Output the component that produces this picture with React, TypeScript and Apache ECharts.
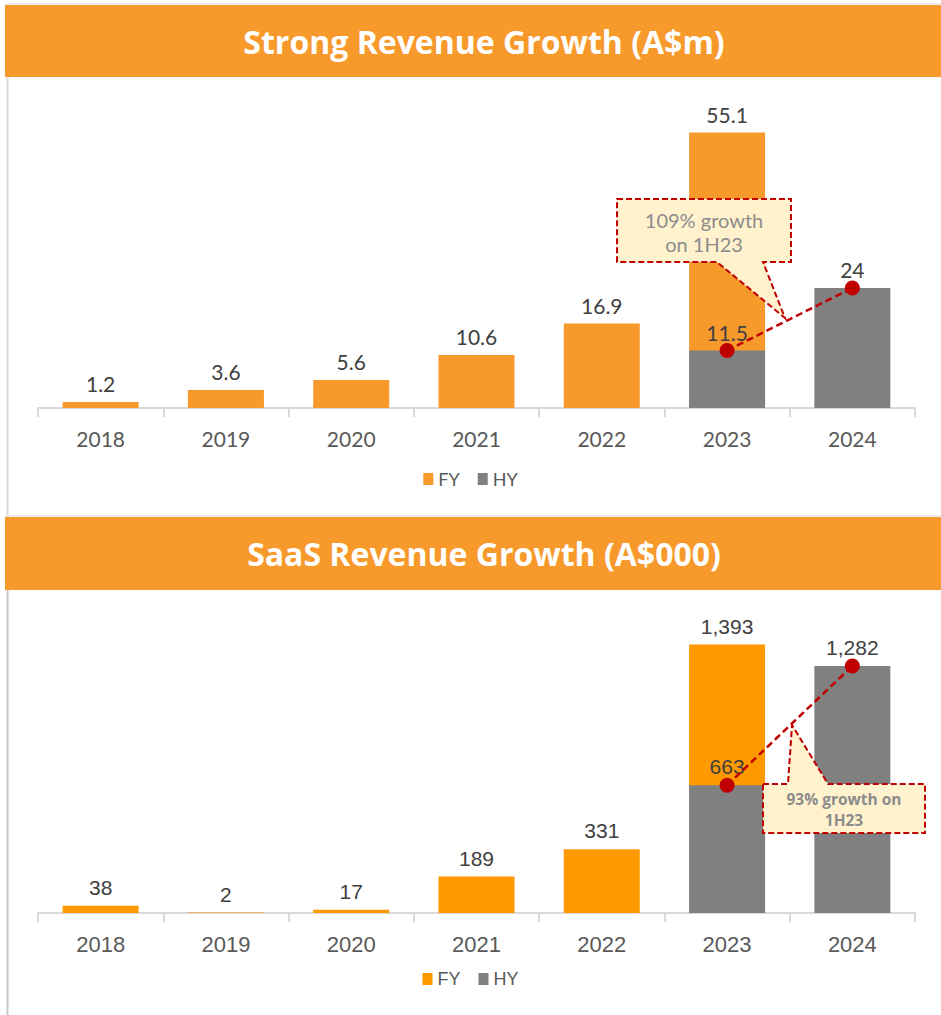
import React, { useEffect, useRef } from "react";
import * as echarts from "echarts";

const years = ["2018", "2019", "2020", "2021", "2022", "2023", "2024"];
const revenueFY = [1.2, 3.6, 5.6, 10.6, 16.9, 55.1, null];
const revenueHY = [null, null, null, null, null, 11.5, 24];
const saasFY = [38, 2, 17, 189, 331, 1393, null];
const saasHY = [null, null, null, null, null, 663, 1282];
const titles = ["Strong Revenue Growth (A$m)", "SaaS Revenue Growth (A$000)"];
const callouts = ["109% growth\non 1H23", "93% growth on\n1H23"];
const legendNames = ["FY", "HY"];

const ORANGE_TOP = "#F7992B";
const ORANGE_BOT = "#FF9900";
const GREY = "#808080";
const RED = "#C00000";
const CALLOUT_FILL = "#FFF2CC";

export default function App() {
  const ref = useRef<HTMLDivElement>(null);
  useEffect(() => {
    if (!ref.current) return;
    const chart = echarts.init(ref.current, null, { renderer: "svg" });
    const topFont = "Lato, 'Liberation Sans', sans-serif";
    const botFont = "'Liberation Sans', Arial, sans-serif";
    const fmtThousands = (p: any) =>
      p.value == null ? "" : Number(p.value).toLocaleString("en-US");

    const xAxisBase = (gridIndex: number, font: string, size: number, margin: number) => ({
      type: "category",
      gridIndex,
      data: years,
      boundaryGap: true,
      axisLine: { lineStyle: { color: "#D9D9D9", width: 2 } },
      axisTick: { show: true, length: 9, lineStyle: { color: "#D9D9D9", width: 2 } },
      axisLabel: { color: "#595959", fontSize: size, fontFamily: font, margin },
    });

    const barLabel = (font: string, size: number, formatter?: any) => ({
      show: true,
      position: "top",
      distance: 8,
      color: "#404040",
      fontSize: size,
      fontFamily: font,
      ...(formatter ? { formatter } : {}),
    });

    const legendBase = (top: number, font: string, orange: string) => ({
      top,
      left: "center",
      itemWidth: 10,
      itemHeight: 12,
      itemGap: 18,
      icon: "rect",
      textStyle: { color: "#595959", fontSize: 18, fontFamily: font },
      data: [
        { name: legendNames[0], itemStyle: { color: orange } },
        { name: legendNames[1], itemStyle: { color: GREY } },
      ],
    });

    const option: any = {
      animation: false,
      backgroundColor: "#FFFFFF",
      grid: [
        { left: 38, width: 877, top: 108, height: 300 },
        { left: 38, width: 877, top: 624, height: 289 },
      ],
      xAxis: [xAxisBase(0, topFont, 21, 20), xAxisBase(1, botFont, 22, 20)],
      yAxis: [
        { type: "value", gridIndex: 0, min: 0, max: 60, show: false },
        { type: "value", gridIndex: 1, min: 0, max: 1500, show: false },
      ],
      legend: [legendBase(465, topFont, ORANGE_TOP), legendBase(965, botFont, ORANGE_BOT)],
      series: [
        {
          name: "FY",
          type: "bar",
          xAxisIndex: 0,
          yAxisIndex: 0,
          data: revenueFY,
          barWidth: 76,
          barGap: "-100%",
          itemStyle: { color: ORANGE_TOP },
          label: barLabel(topFont, 21),
        },
        {
          name: "HY",
          type: "bar",
          xAxisIndex: 0,
          yAxisIndex: 0,
          data: revenueHY,
          barWidth: 76,
          barGap: "-100%",
          itemStyle: { color: GREY },
          label: barLabel(topFont, 21),
        },
        {
          name: "growth1",
          type: "line",
          xAxisIndex: 0,
          yAxisIndex: 0,
          data: revenueHY,
          symbol: "circle",
          symbolSize: 15,
          itemStyle: { color: RED },
          lineStyle: { color: RED, width: 2.5, type: [7, 4] },
          z: 5,
        },
        {
          name: "FY",
          type: "bar",
          xAxisIndex: 1,
          yAxisIndex: 1,
          data: saasFY,
          barWidth: 76,
          barGap: "-100%",
          itemStyle: { color: ORANGE_BOT },
          label: barLabel(botFont, 21, fmtThousands),
        },
        {
          name: "HY",
          type: "bar",
          xAxisIndex: 1,
          yAxisIndex: 1,
          data: saasHY,
          barWidth: 76,
          barGap: "-100%",
          itemStyle: { color: GREY },
          label: barLabel(botFont, 21, fmtThousands),
        },
        {
          name: "growth2",
          type: "line",
          xAxisIndex: 1,
          yAxisIndex: 1,
          data: saasHY,
          symbol: "circle",
          symbolSize: 15,
          itemStyle: { color: RED },
          lineStyle: { color: RED, width: 2.5, type: [7, 4] },
          z: 5,
        },
      ],
      graphic: [
        // frame lines
        { type: "line", shape: { x1: 5, y1: 4, x2: 941, y2: 4 }, style: { stroke: "#E0E0E0", lineWidth: 1 }, z: 50 },
        { type: "line", shape: { x1: 7.5, y1: 77, x2: 7.5, y2: 517 }, style: { stroke: "#D9D9D9", lineWidth: 2 }, z: 50 },
        { type: "line", shape: { x1: 5, y1: 516, x2: 941, y2: 516 }, style: { stroke: "#E0E0E0", lineWidth: 1 }, z: 50 },
        { type: "line", shape: { x1: 7.5, y1: 590, x2: 7.5, y2: 1015 }, style: { stroke: "#C8C8C8", lineWidth: 2 }, z: 50 },
        // headers
        { type: "rect", shape: { x: 5, y: 5, width: 936, height: 72 }, style: { fill: "#F7992B" }, z: 60 },
        {
          type: "text",
          x: 484,
          y: 41,
          style: {
            text: titles[0],
            fill: "#FFFFFF",
            font: "bold 32px 'Open Sans', sans-serif",
            textAlign: "center",
            textVerticalAlign: "middle",
          },
          z: 61,
        },
        { type: "rect", shape: { x: 5, y: 517, width: 936, height: 73 }, style: { fill: "#F7992B" }, z: 60 },
        {
          type: "text",
          x: 484,
          y: 553,
          style: {
            text: titles[1],
            fill: "#FFFFFF",
            font: "bold 32px 'Open Sans', sans-serif",
            textAlign: "center",
            textVerticalAlign: "middle",
          },
          z: 61,
        },
        // callout 1
        {
          type: "polygon",
          shape: {
            points: [
              [617, 199], [791, 199], [791, 262], [763, 262], [785, 318], [717, 262], [617, 262],
            ],
          },
          style: { fill: CALLOUT_FILL, stroke: RED, lineWidth: 2, lineDash: [6, 3] },
          z: 100,
        },
        {
          type: "text",
          x: 704,
          y: 232,
          style: {
            text: callouts[0],
            fill: "#8C8C8C",
            font: "20px Lato, sans-serif",
            lineHeight: 24,
            textAlign: "center",
            textVerticalAlign: "middle",
          },
          z: 101,
        },
        // callout 2
        {
          type: "polygon",
          shape: {
            points: [
              [763, 784], [788, 784], [792, 725], [828, 784], [925, 784], [925, 833], [763, 833],
            ],
          },
          style: { fill: CALLOUT_FILL, stroke: RED, lineWidth: 2, lineDash: [6, 3] },
          z: 100,
        },
        {
          type: "text",
          x: 844,
          y: 809,
          style: {
            text: callouts[1],
            fill: "#8C8C8C",
            font: "bold 15.5px 'Open Sans', sans-serif",
            lineHeight: 21,
            textAlign: "center",
            textVerticalAlign: "middle",
          },
          z: 101,
        },
      ],
    };
    chart.setOption(option);
    return () => chart.dispose();
  }, []);
  return (
    <div
      ref={ref}
      style={{ position: "absolute", left: 0, top: 0, width: 941, height: 1015 }}
    />
  );
}
